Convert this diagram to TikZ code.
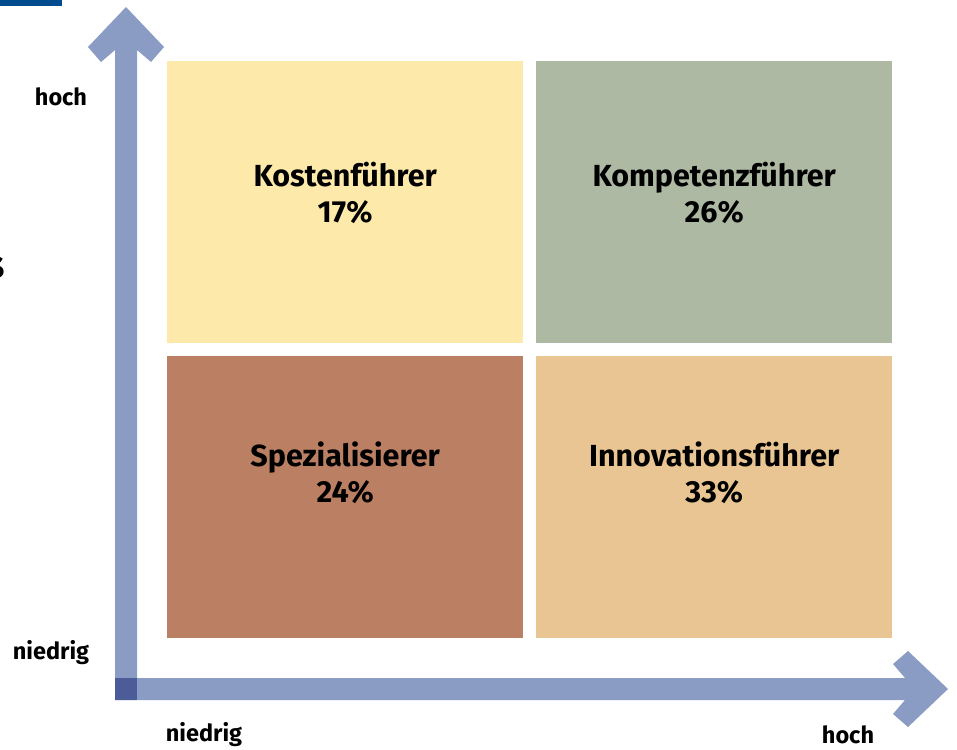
\documentclass[tikz,border=0pt]{standalone}
\usepackage{fontspec}
\setmainfont{Fira Sans}
\usetikzlibrary{calc}
\definecolor{axisblue}{HTML}{8A9CC4}
\definecolor{axisdark}{HTML}{4B5C99}
\definecolor{topbar}{HTML}{004B8D}
\definecolor{cYellow}{HTML}{FDEAAA}
\definecolor{cGreen}{HTML}{ADB9A3}
\definecolor{cBrown}{HTML}{BB8063}
\definecolor{cTan}{HTML}{E8C592}
\begin{document}
\begin{tikzpicture}[x=1pt,y=-1pt,
  quad/.style={draw=none,minimum width=356pt,minimum height=282pt,anchor=north west,inner sep=0pt},
  quadtext/.style={font=\fontsize{30.5}{36}\selectfont\bfseries,align=center,text=black},
  axlabel/.style={font=\fontsize{23.5}{26}\selectfont\bfseries,text=black,inner sep=0pt}]
\useasboundingbox (0,0) rectangle (957,749);
\fill[white] (0,0) rectangle (957,749);
% top-left bar
\fill[topbar] (0,0) rectangle (62,6);
% cut-off letter
\node[anchor=east,font=\fontsize{40}{44}\selectfont\bfseries,inner sep=0pt] (sfrag) at (5,268) {s};
% quadrants
\node[quad,fill=cYellow] (q1) at (167,61) {};
\node[quad,fill=cGreen] (q2) at (536,61) {};
\node[quad,fill=cBrown] (q3) at (167,356) {};
\node[quad,fill=cTan] (q4) at (536,356) {};
\node[quadtext] (t1) at ($(q1.north)+(0,132)$) {Kostenführer\\17\%};
\node[quadtext] (t2) at ($(q2.north)+(0,132)$) {Kompetenzführer\\26\%};
\node[quadtext] (t3) at ($(q3.north)+(0,117)$) {Spezialisierer\\24\%};
\node[quadtext] (t4) at ($(q4.north)+(0,117)$) {Innovationsführer\\33\%};
% axes
\fill[axisblue] (115,700) -- (115,50) -- (101,62) -- (88,47) -- (126,7) -- (164,47) -- (151,62) -- (137,50) -- (137,700) -- cycle;
\fill[axisblue] (115,678) -- (905,678) -- (893,664) -- (908,651) -- (948,689) -- (908,727) -- (893,714) -- (905,700) -- (115,700) -- cycle;
\fill[axisdark] (115,678) rectangle (137,700);
\coordinate (origin) at (126,689);
% axis labels
\node[axlabel] (yhigh) at (61,97) {hoch};
\node[axlabel] (ylow) at (51,653) {niedrig};
\node[axlabel] (xlow) at (204,735) {niedrig};
\node[axlabel] (xhigh) at (848,735) {hoch};
\end{tikzpicture}
\end{document}
